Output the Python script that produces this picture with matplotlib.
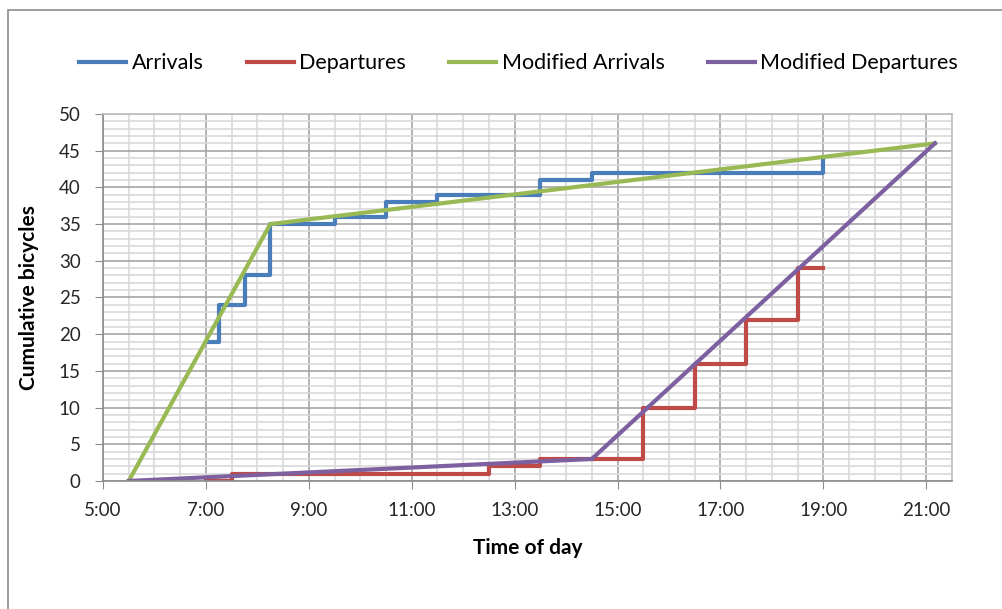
import matplotlib.pyplot as plt
from matplotlib.patches import Rectangle
from matplotlib.ticker import MultipleLocator, FixedLocator, FuncFormatter

plt.rcParams['font.family'] = ['Lato', 'DejaVu Sans']

# cumulative counts, times as "H:MM"
arr_times = ["7:00", "7:15", "7:45", "8:15", "9:30", "10:30", "11:30", "13:30", "14:30", "19:00"]
arr_counts = [19, 24, 28, 35, 36, 38, 39, 41, 42, 44]

dep_times = ["7:00", "7:30", "12:30", "13:30", "15:30", "16:30", "17:30", "18:30", "19:00"]
dep_counts = [0, 1, 2, 3, 10, 16, 22, 29, 29]

mod_arr_times = ["5:30", "8:15", "21:10"]
mod_arr_counts = [0, 35, 46]

mod_dep_times = ["5:30", "14:30", "21:10"]
mod_dep_counts = [0, 3, 46]

hour_ticks = [5, 7, 9, 11, 13, 15, 17, 19, 21]


def to_hours(times):
    out = []
    for t in times:
        h, m = t.split(":")
        out.append(int(h) + int(m) / 60.0)
    return out


fig = plt.figure(figsize=(10.03, 6.09), dpi=100)
ax = fig.add_axes([0.1027, 0.2102, 0.8465, 0.6026])

lw = 3
ax.step(to_hours(arr_times), arr_counts, where="post", color="#4A7EBB", lw=lw, label="Arrivals")
ax.step(to_hours(dep_times), dep_counts, where="post", color="#BE4B48", lw=lw, label="Departures")
ax.plot(to_hours(mod_arr_times), mod_arr_counts, color="#98B954", lw=lw, label="Modified Arrivals")
ax.plot(to_hours(mod_dep_times), mod_dep_counts, color="#7D60A0", lw=lw, label="Modified Departures")

ax.set_xlim(5, 21.5)
ax.set_ylim(0, 50)
ax.xaxis.set_major_locator(FixedLocator(hour_ticks))
ax.xaxis.set_minor_locator(MultipleLocator(0.5))
ax.yaxis.set_major_locator(MultipleLocator(5))
ax.yaxis.set_minor_locator(MultipleLocator(1))
ax.xaxis.set_major_formatter(FuncFormatter(lambda v, p: "%d:00" % int(round(v))))

ax.grid(which="minor", color="#d9d9d9", lw=1.2, zorder=0)
ax.grid(which="major", color="#a6a6a6", lw=1.2, zorder=0)
ax.set_axisbelow(True)
for s in ax.spines.values():
    s.set_color("#bfbfbf")
    s.set_linewidth(1.2)
ax.spines["bottom"].set_color("#8c8c8c")
ax.spines["left"].set_color("#8c8c8c")

ax.tick_params(which="major", length=6, color="#8c8c8c", labelsize=13.5,
               labelcolor="#262626")
ax.tick_params(which="minor", length=0)
ax.tick_params(axis="x", pad=9)
ax.tick_params(axis="y", pad=10)

ax.set_xlabel("Time of day", fontsize=15, fontweight="bold", labelpad=14)
ax.set_ylabel("Cumulative bicycles", fontsize=15, fontweight="bold", labelpad=14)

fig.legend(loc="center", bbox_to_anchor=(0.517, 0.896), ncol=4, frameon=False,
           fontsize=15.5, handlelength=2.2, handletextpad=0.25, columnspacing=2.0)

# outer chart frame
fig.patches.append(Rectangle((8 / 1003, -0.05), 1.1, 1.05 - 10 / 609, transform=fig.transFigure,
                             fill=False, edgecolor="#8c8c8c", lw=1.2))

fig.savefig("out.png", dpi=100)
